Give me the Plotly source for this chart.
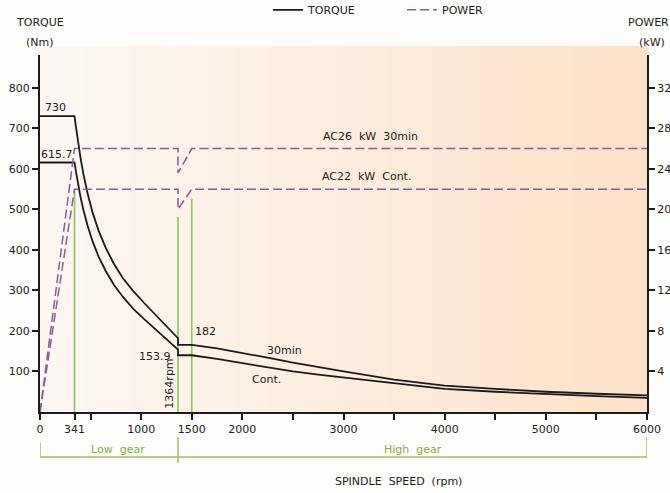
import plotly.graph_objects as go

# ---------------- data ----------------
# Low-gear torque (Nm) against spindle speed (rpm)
SPEED_LOW = [0, 341, 350, 360, 380, 400, 430, 470, 520, 580, 650, 730, 820, 920, 1030, 1150, 1260, 1364]
TQ_30MIN_LOW = [730, 730, 713, 694, 659, 628, 586, 540, 492, 447, 405, 366, 330, 299, 269, 237, 208, 182]
TQ_CONT_LOW = [615.7, 615.7, 601, 585, 557, 531, 498, 460, 421, 383, 348, 314, 284, 255, 229, 202, 176, 153.9]

# High-gear torque (Nm)
SPEED_HIGH = [1364, 1500, 1750, 2000, 2250, 2500, 2750, 3000, 3500, 4000, 4500, 5000, 5500, 6000]
TQ_30MIN_HIGH = [165.5, 165.5, 157, 146, 134, 122, 111, 100, 80, 65, 57, 50, 45, 41]
TQ_CONT_HIGH = [140, 140, 131, 121, 110, 100, 92, 85, 70, 57, 50, 44, 39, 35]

# Spindle power (kW)
SPEED_POWER = [0, 341, 1364, 1364, 1500, 6000]
POWER_30MIN = [0, 26, 26, 23.6, 26, 26]
POWER_CONT = [0, 22, 22, 20, 22, 22]

# Green guide lines at the base / gear-change speeds (top end in Nm)
GUIDE_SPEEDS = [341, 1364, 1500]
GUIDE_TOPS = [550, 481, 526]

# Gear ranges
GEAR_NAMES = ["Low gear", "High gear"]
GEAR_RANGES = [(0, 1364), (1364, 6000)]

# Axis ticks
X_TICKS = [0, 341, 500, 1000, 1500, 2000, 2500, 3000, 3500, 4000, 4500, 5000, 5500, 6000]
X_TICK_TEXT = ["0", "341", "", "1000", "1500", "2000", "", "3000", "", "4000", "", "5000", "", "6000"]
TORQUE_TICKS = [100, 200, 300, 400, 500, 600, 700, 800]
POWER_TICKS = [4, 8, 12, 16, 20, 24, 28, 32]

# ---------------- styling ----------------
FONT = "DejaVu Sans"
INK = "#1c1c1c"
TORQUE_COLOR = "#1a1a1a"
POWER_COLOR = "#8e5a92"
GUIDE_COLOR = "#8cc65e"
GEAR_COLOR = "#9dbf5e"
GEAR_TEXT = "#8aa83e"

Y_MAX = 881
P_MAX = Y_MAX / 25.0

fig = go.Figure()

# peach background, graded from left to right
n_strips = 40
c0 = (252, 247, 242)
c1 = (253, 226, 201)
for i in range(n_strips):
    t = i / (n_strips - 1)
    col = tuple(round(a + (b - a) * t) for a, b in zip(c0, c1))
    fig.add_shape(type="rect", xref="paper", yref="paper",
                  x0=i / n_strips, x1=(i + 1) / n_strips + 0.002, y0=0, y1=1.025,
                  fillcolor="rgb(%d,%d,%d)" % col, line_width=0, layer="below")

# green guide lines
for s, top in zip(GUIDE_SPEEDS, GUIDE_TOPS):
    fig.add_trace(go.Scatter(x=[s, s], y=[0, top], mode="lines",
                             line=dict(color=GUIDE_COLOR, width=1.6),
                             showlegend=False, hoverinfo="skip"))

# power curves (right axis)
fig.add_trace(go.Scatter(x=SPEED_POWER, y=POWER_30MIN, yaxis="y2", mode="lines",
                         line=dict(color=POWER_COLOR, width=1.5, dash="9px,4px"),
                         name="POWER", showlegend=True))
fig.add_trace(go.Scatter(x=SPEED_POWER, y=POWER_CONT, yaxis="y2", mode="lines",
                         line=dict(color=POWER_COLOR, width=1.5, dash="9px,4px"),
                         showlegend=False))

# torque curves (left axis)
fig.add_trace(go.Scatter(x=SPEED_LOW + SPEED_HIGH, y=TQ_30MIN_LOW + TQ_30MIN_HIGH, mode="lines",
                         line=dict(color=TORQUE_COLOR, width=1.8),
                         name="TORQUE", showlegend=True))
fig.add_trace(go.Scatter(x=SPEED_LOW + SPEED_HIGH, y=TQ_CONT_LOW + TQ_CONT_HIGH, mode="lines",
                         line=dict(color=TORQUE_COLOR, width=1.8),
                         showlegend=False))


def label(x, y, text, size=11, color=INK, **kw):
    kw.setdefault("xanchor", "center")
    kw.setdefault("yanchor", "middle")
    fig.add_annotation(x=x, y=y, text=text, showarrow=False,
                       font=dict(family=FONT, size=size, color=color), **kw)


# value labels
label(150, TQ_30MIN_LOW[0], str(TQ_30MIN_LOW[0]), yanchor="bottom")
label(170, TQ_CONT_LOW[0], str(TQ_CONT_LOW[0]), yanchor="bottom")
label(1640, 198, str(TQ_30MIN_LOW[-1]))
label(1140, 136, str(TQ_CONT_LOW[-1]))
label(1285, 70, "1364rpm", textangle=-90)
label(3265, POWER_30MIN[1] * 25, "AC26  kW  30min", yanchor="bottom", yshift=4)
label(3225, POWER_CONT[1] * 25, "AC22  kW  Cont.", yanchor="bottom", yshift=4)
label(2420, 151, "30min")
label(2235, 81, "Cont.")

# axis titles
label(0, 1.092, "TORQUE", xref="paper", yref="paper")
label(0, 1.036, "(Nm)", xref="paper", yref="paper")
label(1.002, 1.090, "POWER", xref="paper", yref="paper")
label(1.008, 1.036, "(kW)", xref="paper", yref="paper")
label(0.591, -0.196, "SPINDLE  SPEED  (rpm)", xref="paper", yref="paper")

# gear range brackets below the speed axis
BR_Y = -0.126
fig.add_shape(type="line", xref="x", yref="paper", x0=GEAR_RANGES[0][0], x1=GEAR_RANGES[-1][1],
              y0=BR_Y, y1=BR_Y, line=dict(color=GEAR_COLOR, width=1.5))
fig.add_shape(type="line", xref="x", yref="paper", x0=GEAR_RANGES[0][0], x1=GEAR_RANGES[0][0],
              y0=-0.087, y1=BR_Y, line=dict(color=GEAR_COLOR, width=1.5))
fig.add_shape(type="line", xref="x", yref="paper", x0=GEAR_RANGES[0][1], x1=GEAR_RANGES[0][1],
              y0=-0.070, y1=-0.143, line=dict(color=GEAR_COLOR, width=1.5))
fig.add_shape(type="line", xref="x", yref="paper", x0=GEAR_RANGES[-1][1], x1=GEAR_RANGES[-1][1],
              y0=-0.070, y1=BR_Y, line=dict(color=GEAR_COLOR, width=1.5))
for name, (a, b) in zip(GEAR_NAMES, GEAR_RANGES):
    label((a + b) / 2 + (90 if a == 0 else 0), -0.104, name.replace(" ", "  "),
          color=GEAR_TEXT, yref="paper")

axis_common = dict(showgrid=False, zeroline=False, showline=True, linecolor=INK, linewidth=2,
                   ticks="outside", ticklen=6, tickwidth=1.5, tickcolor=INK, automargin=False,
                   tickfont=dict(family=FONT, size=11, color=INK))

fig.update_layout(
    template="none",
    width=670, height=493,
    margin=dict(l=40, r=23, t=55, b=81, autoexpand=False),
    paper_bgcolor="#fdfdfb",
    plot_bgcolor="rgba(0,0,0,0)",
    xaxis=dict(range=[0, 6000], tickvals=X_TICKS, ticktext=X_TICK_TEXT, **axis_common),
    yaxis=dict(range=[0, Y_MAX], tickvals=TORQUE_TICKS, **axis_common),
    yaxis2=dict(range=[0, P_MAX], tickvals=POWER_TICKS, overlaying="y", side="right",
                anchor="x", **axis_common),
    legend=dict(orientation="h", xref="container", yref="container",
                x=0.40, y=0.98, xanchor="left", yanchor="middle",
                traceorder="reversed", entrywidth=89,
                font=dict(family=FONT, size=11, color=INK), bgcolor="rgba(0,0,0,0)"),
    showlegend=True,
)

fig.write_html("out.html")
